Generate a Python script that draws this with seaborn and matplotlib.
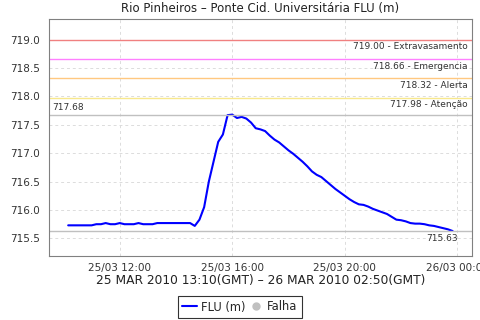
import numpy as np
import pandas as pd
import matplotlib
matplotlib.use("Agg")
import matplotlib.pyplot as plt
import matplotlib.dates as mdates
from matplotlib.lines import Line2D
import seaborn as sns

# ---- data ----
start_time = "2010-03-25 10:10"
step_minutes = 10
flu_values = [
    715.73, 715.73, 715.73, 715.73, 715.73, 715.73, 715.75, 715.75, 715.77, 715.75,
    715.75, 715.77, 715.75, 715.75, 715.75, 715.77, 715.75, 715.75, 715.75, 715.77,
    715.77, 715.77, 715.77, 715.77, 715.77, 715.77, 715.77, 715.72, 715.83, 716.05,
    716.50, 716.85, 717.20, 717.33, 717.67, 717.68, 717.62, 717.64, 717.61, 717.54,
    717.44, 717.42, 717.39, 717.31, 717.24, 717.19, 717.12, 717.05, 716.99, 716.92,
    716.85, 716.77, 716.68, 716.62, 716.58, 716.51, 716.44, 716.37, 716.31, 716.25,
    716.19, 716.14, 716.10, 716.09, 716.06, 716.02, 715.99, 715.96, 715.93, 715.88,
    715.83, 715.82, 715.80, 715.77, 715.76, 715.76, 715.75, 715.73, 715.72, 715.70,
    715.68, 715.66, 715.63,
]
threshold_values = [719.00, 718.66, 718.32, 717.98]
threshold_names = ["Extravasamento", "Emergencia", "Alerta", "Atenção"]
threshold_colors = ["#f08080", "#ff80ff", "#ffc880", "#f8e88c"]
title = "Rio Pinheiros – Ponte Cid. Universitária FLU (m)"
xlabel = "25 MAR 2010 13:10(GMT) – 26 MAR 2010 02:50(GMT)"
series_name = "FLU (m)"
fail_name = "Falha"

times = pd.date_range(start_time, periods=len(flu_values), freq=f"{step_minutes}min")
df = pd.DataFrame({"time": times, "value": flu_values})

sns.set_style("white")
plt.rcParams["font.family"] = ["DejaVu Sans"]

fig = plt.figure(figsize=(4.8, 3.2), dpi=100)
ax = fig.add_axes([0.102, 0.2, 0.881, 0.74])

sns.lineplot(data=df, x="time", y="value", ax=ax, color="#0000ff", linewidth=1.5)

ax.set_ylim(715.19, 719.36)
ax.set_yticks(np.arange(715.5, 719.01, 0.5))
ax.yaxis.set_major_formatter(matplotlib.ticker.FormatStrFormatter("%.1f"))
ax.xaxis.set_major_locator(mdates.HourLocator(byhour=[0, 4, 8, 12, 16, 20]))
ax.xaxis.set_major_formatter(mdates.DateFormatter("%d/%m %H:%M"))
ax.margins(x=0.05)

ax.grid(True, color="#dcdcdc", linestyle=(0, (3, 3)), linewidth=0.7)
for s in ax.spines.values():
    s.set_color("#808080")
    s.set_linewidth(0.8)
ax.tick_params(axis="both", labelsize=7.5, colors="#808080", labelcolor="#333333",
               length=3, width=0.6, direction="out")
ax.tick_params(axis="x", pad=2)

for v, n, c in zip(threshold_values, threshold_names, threshold_colors):
    ax.axhline(v, color=c, linewidth=1)
    ax.annotate(f"{v:.2f} - {n}", xy=(1, v), xycoords=("axes fraction", "data"),
                xytext=(-3, -2), textcoords="offset points", ha="right", va="top",
                fontsize=6.5, color="#333333")

vmax = max(flu_values)
vlast = flu_values[-1]
ax.axhline(vmax, color="#c0c0c0", linewidth=1)
ax.annotate(f"{vmax:.2f}", xy=(0, vmax), xycoords=("axes fraction", "data"),
            xytext=(2, 2), textcoords="offset points", ha="left", va="bottom",
            fontsize=6.5, color="#333333")
ax.axhline(vlast, color="#c0c0c0", linewidth=1)
ax.annotate(f"{vlast:.2f}", xy=(1, vlast), xycoords=("axes fraction", "data"),
            xytext=(-10, -2), textcoords="offset points", ha="right", va="top",
            fontsize=6.5, color="#333333")

ax.set_title(title, fontsize=8.5, pad=5, color="#222222")
ax.set_xlabel(xlabel, fontsize=8.8, labelpad=1, color="#222222")
ax.set_ylabel("")

handles = [Line2D([0], [0], color="#0000ff", linewidth=1.5),
           Line2D([0], [0], marker="o", color="none", markerfacecolor="#c0c0c0",
                  markeredgecolor="#c0c0c0", markersize=5)]
leg = fig.legend(handles, [series_name, fail_name], loc="center",
                 bbox_to_anchor=(240 / 480, 1 - 307 / 320), ncol=2, fontsize=8.3,
                 frameon=True, fancybox=False, handlelength=1.3, handletextpad=0.3,
                 columnspacing=0.3, borderpad=0.35, borderaxespad=0)
leg.get_frame().set_edgecolor("black")
leg.get_frame().set_linewidth(0.8)

fig.savefig("out.png", dpi=100)
